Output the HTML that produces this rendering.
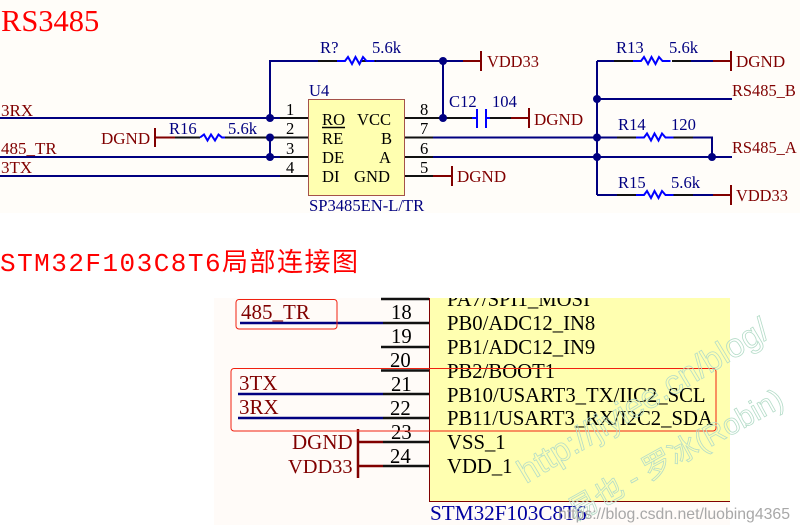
<!DOCTYPE html>
<html><head><meta charset="utf-8"><style>
html,body{margin:0;padding:0;background:#fff}
svg{display:block}
text{font-family:"Liberation Serif","Noto Serif CJK SC",serif}
.n{fill:#000080;font-size:16.6px}
.r{fill:#800000;font-size:17px}
.v{fill:#800000;font-size:16.4px}
.k{fill:#000;font-size:16.6px}
.p{fill:#000;font-size:20.7px}
.br{fill:#800000;font-size:21px}
.w{fill:none;stroke:#b4dcc8;stroke-width:.8;font-family:"Liberation Sans","Noto Sans CJK SC",sans-serif}
</style></head><body>
<svg width="800" height="530" viewBox="0 0 800 530" xmlns="http://www.w3.org/2000/svg">
<rect width="800" height="530" fill="#fff"/>
<rect x="0" y="0" width="800" height="213" fill="#fffdf9"/>
<rect x="214" y="298" width="516" height="227" fill="#fffbf8"/>
<text x="1" y="31" fill="#ff0000" font-size="30.500">RS3485</text>
<text x="0" y="271" fill="#ff0000" font-size="26" style="font-family:'Liberation Mono','Noto Sans CJK SC',monospace" textLength="358">STM32F103C8T6局部连接图</text>

<!-- U4 -->
<rect x="308.500" y="99.500" width="96" height="96" fill="#ffffb0" stroke="#a5524a" stroke-width="1"/>
<g fill="none" stroke="#000080" stroke-width="2">
<path d="M0 118H290M0 157H290M0 176H290"/>
<path d="M270 118V61H318"/>
<path d="M270 137V157"/>
<path d="M443 61V118"/>
<path d="M376 61H463"/>
<path d="M405 137.500H617M405 157H732"/>
<path d="M597 99H732M597 61V195"/>
<path d="M597 61H614M597 195H617"/>
<path d="M693 137.500H712V157"/>
<path d="M691 61H713M693 195H713"/>
</g>
<g fill="none" stroke="#111" stroke-width="2">
<path d="M280 118H308M240 137.500H308M280 157H308M280 176H308"/>
<path d="M175 137.500H200M225 137.500H256"/>
<path d="M318 61H338M360 61H376"/>
<path d="M405 118H472M490 118H511"/>
<path d="M405 176H433"/>
<path d="M405 137.500H433M405 157H433"/>
<path d="M614 61H633M672 61H691M617 137.500H636M673 137.500H693M617 195H636M673 195H693"/>
</g>
<g fill="none" stroke="#800000" stroke-width="2">
<path d="M155 137.500H175M155 128V147"/>
<path d="M463 61H481M481 51V71"/>
<path d="M511 118H529M529 108V128"/>
<path d="M433 176H452M452 166V186"/>
<path d="M713 61H731M731 51V71"/>
<path d="M713 195H731M731 185V205"/>
</g>
<g fill="none" stroke="#0000ff" stroke-width="2">
<path d="M337 61h8l3-4 4 7 3.500-7 4 7 3.500-7 3.500 4h8"/>
<path d="M200 137.500l4-3 3.500 6 3.500-6 4 6 3.500-6 3.500 3h3"/>
<path d="M633 61h8l3-4 4 7 3.500-7 4 7 3.500-7 3.500 4h8"/>
<path d="M636 137.500h8l3-4 4 7 3.500-7 4 7 3.500-7 3.500 4h8"/>
<path d="M636 195h8l3-4 4 7 3.500-7 4 7 3.500-7 3.500 4h8"/>
<path d="M472 118h5M477 109V128M486 109V128M486 118h4"/>
</g>
<path d="M322 127.500H345" stroke="#000" stroke-width="1.500"/>
<g fill="#000080">
<circle cx="270" cy="118" r="4"/><circle cx="270" cy="137.500" r="4"/><circle cx="270" cy="157" r="4"/>
<circle cx="443" cy="61" r="4"/><circle cx="443" cy="118" r="4"/>
<circle cx="597" cy="99" r="4"/><circle cx="597" cy="137.500" r="4"/><circle cx="597" cy="157" r="4"/>
<circle cx="712" cy="157" r="4"/>
</g>
<text class="r" x="1" y="116">3RX</text>
<text class="r" x="1" y="154">485_TR</text>
<text class="r" x="1" y="173">3TX</text>
<text class="r" x="101" y="144">DGND</text>
<text class="n" x="169" y="134">R16</text>
<text class="n" x="228" y="134">5.6k</text>
<text class="n" x="320" y="53">R?</text>
<text class="n" x="372" y="53">5.6k</text>
<text class="n" x="309" y="96">U4</text>
<text class="n" x="309" y="211">SP3485EN-L/TR</text>
<text class="k" x="286" y="115">1</text><text class="k" x="286" y="134">2</text><text class="k" x="286" y="154">3</text><text class="k" x="286" y="173">4</text>
<text class="k" x="420" y="115">8</text><text class="k" x="420" y="134">7</text><text class="k" x="420" y="154">6</text><text class="k" x="420" y="173">5</text>
<text class="k" x="322" y="125">RO</text><text class="k" x="322" y="144">RE</text><text class="k" x="322" y="163">DE</text><text class="k" x="322" y="182">DI</text>
<text class="k" x="357" y="125">VCC</text><text class="k" x="381" y="144">B</text><text class="k" x="379" y="163">A</text><text class="k" x="354" y="182">GND</text>
<text class="v" x="487" y="67">VDD33</text>
<text class="n" x="449" y="107">C12</text>
<text class="n" x="492" y="107">104</text>
<text class="r" x="534" y="125">DGND</text>
<text class="r" x="457" y="182">DGND</text>
<text class="n" x="616" y="53">R13</text><text class="n" x="669" y="53">5.6k</text>
<text class="r" x="736" y="67">DGND</text>
<text class="v" x="732" y="96">RS485_B</text>
<text class="n" x="618" y="130">R14</text><text class="n" x="671" y="130">120</text>
<text class="v" x="732" y="153">RS485_A</text>
<text class="n" x="618" y="188">R15</text><text class="n" x="671" y="188">5.6k</text>
<text class="v" x="736" y="201">VDD33</text>

<!-- STM32 -->
<rect x="429.500" y="298" width="300.500" height="203.500" fill="#ffffb0"/>
<path d="M429.500 298V501.500H730" fill="none" stroke="#800000" stroke-width="1"/>
<g fill="none" stroke="#000080" stroke-width="2.500">
<path d="M240 323H383M238 394H383M238 418H383"/>
</g>
<g fill="none" stroke="#111" stroke-width="2.500">
<path d="M381 299H429M383 323H429M381 347H429M381 370.500H429M383 394H429M383 418H429M383 442H429M383 466H429"/>
</g>
<g fill="none" stroke="#800000" stroke-width="2.500">
<path d="M358 442H383M358 466H383M358 429V478"/>
</g>
<text class="br" x="241" y="319">485_TR</text>
<text class="br" x="239" y="390">3TX</text>
<text class="br" x="239" y="414">3RX</text>
<text class="br" x="292" y="449">DGND</text>
<text class="br" x="288" y="473" style="font-size:20.4px">VDD33</text>
<text class="p" x="391" y="319">18</text><text class="p" x="391" y="343">19</text><text class="p" x="390" y="367">20</text><text class="p" x="391" y="391">21</text><text class="p" x="390" y="415">22</text><text class="p" x="391" y="439">23</text><text class="p" x="390" y="463">24</text>
<svg x="430" y="298" width="300" height="210" viewBox="430 298 300 210"><text class="p" x="447" y="306">PA7/SPI1_MOSI</text></svg>
<text class="p" x="447" y="330">PB0/ADC12_IN8</text>
<text class="p" x="447" y="354">PB1/ADC12_IN9</text>
<text class="p" x="447" y="378">PB2/BOOT1</text>
<text class="p" x="447" y="402">PB10/USART3_TX/IIC2_SCL</text>
<text class="p" x="447" y="425">PB11/USART3_RX/I2C2_SDA</text>
<text class="p" x="447" y="449">VSS_1</text>
<text class="p" x="447" y="473">VDD_1</text>
<text x="430" y="520" fill="#0000a0" font-size="21.200">STM32F103C8T6</text>
<rect x="236" y="299.500" width="101" height="29.500" rx="3" fill="none" stroke="#f02010" stroke-width="1"/>
<rect x="231" y="368.500" width="485" height="62.500" rx="3" fill="none" stroke="#f02010" stroke-width="1"/>

<!-- watermark -->
<text class="w" x="526" y="484" font-size="33.500" transform="rotate(-31 526 484)">http://jiyiee.cn/blog/</text>
<text class="w" x="575" y="522" font-size="29.500" transform="rotate(-29 575 522)">易也 - 罗冰(Robin)</text>
<text x="558" y="519" fill="#a8a8a8" font-size="16" style="font-family:'Liberation Sans',sans-serif" textLength="232" lengthAdjust="spacingAndGlyphs">https://blog.csdn.net/luobing4365</text>
</svg>
</body></html>
